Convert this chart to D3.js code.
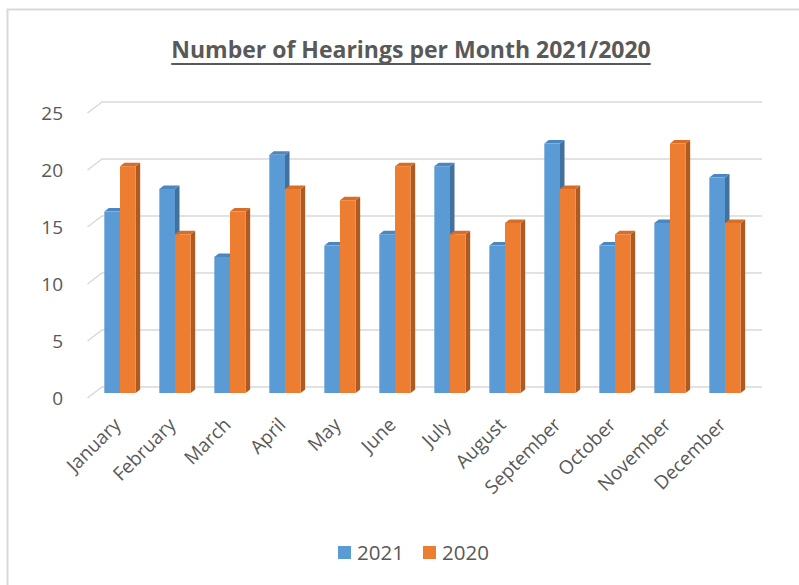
<!DOCTYPE html>
<html>
<head>
<meta charset="utf-8">
<script src="https://cdn.jsdelivr.net/npm/d3@7"></script>
<style>
  body { margin: 0; background: #fff; }
  text { font-family: "Open Sans", sans-serif; fill: #595959; }
</style>
</head>
<body>
<script>
var months = ["January", "February", "March", "April", "May", "June",
              "July", "August", "September", "October", "November", "December"];
var series = ["2021", "2020"];
var values2021 = [16, 18, 12, 21, 13, 14, 20, 13, 22, 13, 15, 19];
var values2020 = [20, 14, 16, 18, 17, 20, 14, 15, 18, 14, 22, 15];
var yTicks = [0, 5, 10, 15, 20, 25];

var colors = { "2021": "#5b9bd5", "2020": "#ed7d31" };
var sides = { "2021": "#41719c", "2020": "#ae5a21" };
var tops = { "2021": "#4a86bf", "2020": "#d66e28" };

var width = 799, height = 585;
var depthX = 14.5;        // back wall offset
var bx = 4.5, by = 3.5;   // bar depth

var svg = d3.select("body").append("svg")
    .attr("width", width)
    .attr("height", height);

// outer frame (only top and left visible)
svg.append("path")
    .attr("d", "M7.5,585 V9.5 H799")
    .attr("fill", "none")
    .attr("stroke", "#d9d9d9")
    .attr("stroke-width", 2);

var title = svg.append("text")
    .attr("x", 411)
    .attr("y", 58)
    .attr("text-anchor", "middle")
    .style("font-size", "23px")
    .style("font-weight", "bold")
    .text("Number of Hearings per Month 2021/2020");
var tw = title.node().getComputedTextLength();
svg.append("line")
    .attr("x1", 411 - tw / 2)
    .attr("x2", 411 + tw / 2)
    .attr("y1", 64)
    .attr("y2", 64)
    .attr("stroke", "#595959")
    .attr("stroke-width", 2);

var x = d3.scaleBand().domain(months).range([92.5, 752.5])
    .paddingInner(0.43).paddingOuter(0.215);
var xs = d3.scaleBand().domain(series).range([0, x.bandwidth()]);

var yFront = d3.scaleLinear().domain([0, 25]).range([398, 113]);
var yBack = d3.scaleLinear().domain([0, 25]).range([387, 102]);
var yBar = d3.scaleLinear().domain([0, 25]).range([393, 109.5]);

// gridlines on back wall
var grid = svg.append("g");
yTicks.forEach(function(t) {
    grid.append("path")
        .attr("d", "M87.5," + yFront(t) + " L" + (87.5 + depthX) + "," + yBack(t) + " H762")
        .attr("fill", "none")
        .attr("stroke", "#d9d9d9")
        .attr("stroke-width", 1.5);
});

svg.append("g").selectAll("text")
    .data(yTicks)
    .enter()
    .append("text")
    .attr("x", 63)
    .attr("y", function(d) { return yFront(d); })
    .attr("dy", "0.35em")
    .attr("text-anchor", "end")
    .style("font-size", "19px")
    .text(function(d) { return d; });

var table = [];
months.forEach(function(m, i) {
    table.push({ month: m, key: "2021", value: values2021[i] });
    table.push({ month: m, key: "2020", value: values2020[i] });
});

var bars = svg.append("g").selectAll("g")
    .data(table)
    .enter()
    .append("g");

bars.each(function(d) {
    var g = d3.select(this);
    var x0 = x(d.month) + xs(d.key);
    var w = xs.bandwidth();
    var y0 = yBar(0), y1 = yBar(d.value);
    // side
    g.append("path")
        .attr("d", "M" + (x0 + w) + "," + y0 + " L" + (x0 + w) + "," + y1 +
            " L" + (x0 + w + bx) + "," + (y1 - by) + " L" + (x0 + w + bx) + "," + (y0 - by) + "Z")
        .attr("fill", sides[d.key]);
    // top
    g.append("path")
        .attr("d", "M" + x0 + "," + y1 + " L" + (x0 + bx) + "," + (y1 - by) +
            " L" + (x0 + w + bx) + "," + (y1 - by) + " L" + (x0 + w) + "," + y1 + "Z")
        .attr("fill", tops[d.key]);
    // front
    g.append("rect")
        .attr("x", x0)
        .attr("y", y1)
        .attr("width", w)
        .attr("height", y0 - y1)
        .attr("fill", colors[d.key]);
});

svg.append("g").selectAll("text")
    .data(months)
    .enter()
    .append("text")
    .attr("text-anchor", "end")
    .attr("transform", function(d) {
        return "translate(" + (x(d) + x.bandwidth() / 2 + 2) + ",426) rotate(-45)";
    })
    .style("font-size", "19px")
    .text(function(d) { return d; });

// legend
var legend = svg.append("g").attr("transform", "translate(338,546)");
var lx = [0, 85];
series.forEach(function(s, i) {
    legend.append("rect")
        .attr("x", lx[i])
        .attr("y", 0)
        .attr("width", 13)
        .attr("height", 13)
        .attr("fill", colors[s]);
    legend.append("text")
        .attr("x", lx[i] + 19)
        .attr("y", 6.5)
        .attr("dy", "0.35em")
        .style("font-size", "20.5px")
        .text(s);
});
</script>
</body>
</html>
